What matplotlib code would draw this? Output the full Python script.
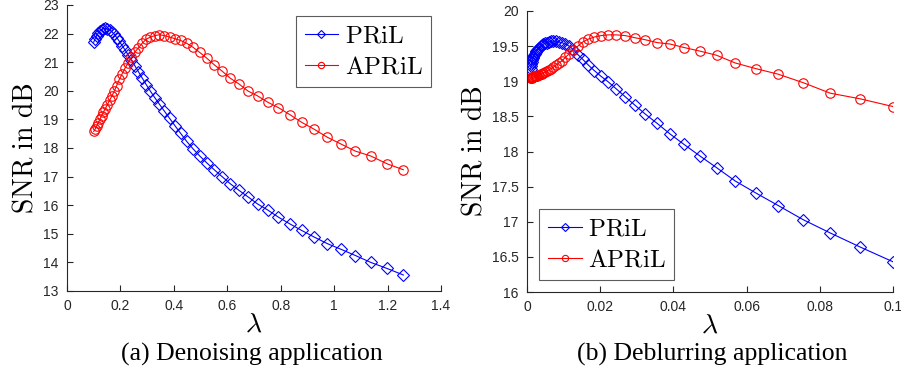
import matplotlib
matplotlib.use("Agg")
import matplotlib.pyplot as plt
from matplotlib.ticker import FixedLocator, FuncFormatter

plt.rcParams['mathtext.fontset'] = 'cm'

# ---- (a) Denoising application ----
lam_a = [0.1000, 0.1053, 0.1109, 0.1168, 0.1230, 0.1295, 0.1364, 0.1436, 0.1512, 0.1593,
         0.1677, 0.1766, 0.1860, 0.1959, 0.2063, 0.2172, 0.2288, 0.2409, 0.2537, 0.2672,
         0.2813, 0.2963, 0.3120, 0.3286, 0.3460, 0.3644, 0.3837, 0.4041, 0.4255, 0.4481,
         0.4719, 0.4970, 0.5233, 0.5511, 0.5804, 0.6112, 0.6436, 0.6778, 0.7138, 0.7517,
         0.7916, 0.8336, 0.8779, 0.9245, 0.9736, 1.0253, 1.0797, 1.1370, 1.1974, 1.2589]
pril_a = [21.70, 21.82, 21.93, 22.02, 22.09, 22.14, 22.17, 22.18, 22.16, 22.13,
          22.07, 21.98, 21.86, 21.73, 21.58, 21.43, 21.26, 21.08, 20.88, 20.67,
          20.45, 20.22, 19.99, 19.76, 19.53, 19.29, 19.04, 18.78, 18.51, 18.23,
          17.97, 17.72, 17.48, 17.24, 17.00, 16.75, 16.52, 16.29, 16.04, 15.83,
          15.58, 15.35, 15.12, 14.89, 14.66, 14.46, 14.24, 14.00, 13.79, 13.56]
april_a = [18.58, 18.66, 18.76, 18.87, 19.00, 19.13, 19.26, 19.38, 19.52, 19.67,
           19.81, 19.98, 20.18, 20.40, 20.59, 20.79, 20.97, 21.17, 21.35, 21.50,
           21.66, 21.80, 21.88, 21.93, 21.96, 21.93, 21.88, 21.82, 21.76, 21.66,
           21.52, 21.34, 21.14, 20.91, 20.69, 20.44, 20.24, 19.99, 19.82, 19.60,
           19.41, 19.17, 18.90, 18.66, 18.38, 18.14, 17.89, 17.72, 17.45, 17.24]

# ---- (b) Deblurring application ----
lam_b = [0.001000, 0.001099, 0.001207, 0.001326, 0.001456, 0.001600, 0.001758, 0.001931,
         0.002121, 0.002330, 0.002560, 0.002812, 0.003089, 0.003393, 0.003728, 0.004095,
         0.004498, 0.004942, 0.005429, 0.005964, 0.006551, 0.007197, 0.007906, 0.008685,
         0.009541, 0.010481, 0.011514, 0.012649, 0.013895, 0.015264, 0.016768, 0.018420,
         0.020236, 0.022230, 0.024421, 0.026827, 0.029471, 0.032375, 0.035565, 0.039069,
         0.042919, 0.047149, 0.051795, 0.056899, 0.062506, 0.068665, 0.075431, 0.082864,
         0.091030, 0.100000]
pril_b = [19.18, 19.21, 19.24, 19.27, 19.30, 19.33, 19.35, 19.37, 19.39, 19.41,
          19.43, 19.45, 19.46, 19.48, 19.50, 19.51, 19.53, 19.54, 19.55, 19.56,
          19.57, 19.57, 19.57, 19.56, 19.55, 19.53, 19.50, 19.45, 19.38, 19.31,
          19.23, 19.15, 19.07, 18.99, 18.89, 18.78, 18.66, 18.53, 18.40, 18.25,
          18.10, 17.94, 17.77, 17.58, 17.41, 17.23, 17.03, 16.84, 16.64, 16.43]
april_b = [19.05, 19.05, 19.05, 19.05, 19.06, 19.06, 19.06, 19.07, 19.07, 19.07,
           19.08, 19.08, 19.09, 19.09, 19.10, 19.11, 19.12, 19.13, 19.14, 19.16,
           19.18, 19.20, 19.23, 19.26, 19.29, 19.34, 19.39, 19.45, 19.50, 19.56,
           19.60, 19.63, 19.65, 19.66, 19.66, 19.65, 19.62, 19.59, 19.55, 19.53,
           19.48, 19.43, 19.37, 19.26, 19.18, 19.10, 18.98, 18.83, 18.75, 18.64]

xticks_a = [0, 0.2, 0.4, 0.6, 0.8, 1.0, 1.2, 1.4]
yticks_a = [13, 14, 15, 16, 17, 18, 19, 20, 21, 22, 23]
xticks_b = [0, 0.02, 0.04, 0.06, 0.08, 0.1]
yticks_b = [16, 16.5, 17, 17.5, 18, 18.5, 19, 19.5, 20]

series_labels = ["PRiL", "APRiL"]
captions = ["(a) Denoising application", "(b) Deblurring application"]

W, H = 901, 389
fig = plt.figure(figsize=(W / 100, H / 100), dpi=100)

def rect(x0, y0, x1, y1):
    return [x0 / W, 1 - y1 / H, (x1 - x0) / W, (y1 - y0) / H]

axA = fig.add_axes(rect(67, 5, 441, 291))
axB = fig.add_axes(rect(527, 11, 893, 292))

spine_col = '#262626'

def fmt(v, pos):
    s = ('%.4f' % v).rstrip('0').rstrip('.')
    return s

def style(ax, xt, yt, xlim, ylim):
    ax.set_xlim(*xlim)
    ax.set_ylim(*ylim)
    ax.xaxis.set_major_locator(FixedLocator(xt))
    ax.yaxis.set_major_locator(FixedLocator(yt))
    ax.xaxis.set_major_formatter(FuncFormatter(fmt))
    ax.yaxis.set_major_formatter(FuncFormatter(fmt))
    for s in ['top', 'right']:
        ax.spines[s].set_visible(False)
    for s in ['left', 'bottom']:
        ax.spines[s].set_color(spine_col)
        ax.spines[s].set_linewidth(0.8)
    ax.tick_params(direction='in', length=4, width=0.8, color=spine_col,
                   labelcolor=spine_col, labelsize=10, pad=6)
    for lab in ax.get_xticklabels() + ax.get_yticklabels():
        lab.set_family('Liberation Sans')
    ax.set_xlabel(r'$\lambda$', fontsize=20, labelpad=-3)
    ax.set_ylabel(r'$\mathrm{SNR\ in\ dB}$', fontsize=20, labelpad=3)

mk = dict(markerfacecolor='none', linewidth=0.8, markeredgewidth=0.8)

axA.plot(lam_a, pril_a, color='#0000ff', marker='D', markersize=5.8, label=series_labels[0], **mk)
axA.plot(lam_a, april_a, color='#ff0000', marker='o', markersize=6.8, label=series_labels[1], **mk)
style(axA, xticks_a, yticks_a, (0, 1.4), (13, 23))

axB.plot(lam_b, pril_b, color='#0000ff', marker='D', markersize=5.8, label=series_labels[0], **mk)
axB.plot(lam_b, april_b, color='#ff0000', marker='o', markersize=6.8, label=series_labels[1], **mk)
style(axB, xticks_b, yticks_b, (0, 0.1), (16, 20))

def legend(ax, loc, anchor):
    leg = ax.legend(loc=loc, bbox_to_anchor=anchor, bbox_transform=fig.transFigure,
                    frameon=True, fancybox=False, numpoints=1, handlelength=1.35,
                    handletextpad=0.25, borderpad=0.35, labelspacing=0.3,
                    prop={'family': 'DejaVu Serif', 'size': 18}, borderaxespad=0)
    leg.get_frame().set_edgecolor('#333333')
    leg.get_frame().set_linewidth(0.8)
    for h in leg.legend_handles:
        h.set_markersize(4.5)
    for t in leg.get_texts():
        t.set_text(r'$\mathrm{%s}$' % t.get_text())
    return leg

legend(axA, 'upper right', (431 / W, 1 - 16 / H))
legend(axB, 'lower left', (539 / W, 1 - 280 / H))

fig.text(252 / W, 1 - 354 / H, captions[0], ha='center', va='center',
         family='Liberation Serif', fontsize=18.5)
fig.text(712 / W, 1 - 354 / H, captions[1], ha='center', va='center',
         family='Liberation Serif', fontsize=18.5)

fig.savefig('out.png', dpi=100)
